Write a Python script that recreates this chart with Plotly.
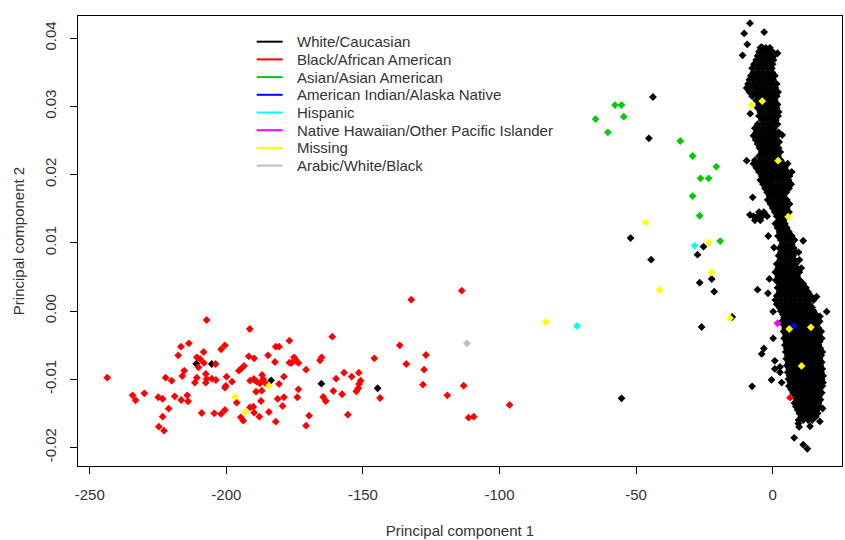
import plotly.graph_objects as go

# ---------------- data ----------------
categories = ["White/Caucasian", "Black/African American", "Asian/Asian American",
              "American Indian/Alaska Native", "Hispanic",
              "Native Hawaiian/Other Pacific Islander", "Missing", "Arabic/White/Black"]
colors = ["#000000", "#FF0000", "#00CD00", "#0000FF", "#00FFFF", "#FF00FF", "#FFFF00", "#BEBEBE"]

x_tick_vals = [-250, -200, -150, -100, -50, 0]
x_tick_text = ["-250", "-200", "-150", "-100", "-50", "0"]
y_tick_vals = [-0.02, -0.01, 0.0, 0.01, 0.02, 0.03, 0.04]
y_tick_text = ["-0.02", "-0.01", "0.00", "0.01", "0.02", "0.03", "0.04"]

# White/Caucasian: dense cluster, read row by row (PC2 value, PC1 values)
caucasian_rows = [
    (0.0386, [-4.5, -2.5, -1.0]),
    (0.0380, [-5.0, -3.2, -1.5, 0.0]),
    (0.0374, [-5.5, -3.8, -2.0, -0.5]),
    (0.0368, [-6.0, -4.4, -2.6, -1.0, 0.3]),
    (0.0362, [-6.8, -5.0, -3.2, -1.5, 0.0]),
    (0.0356, [-7.5, -5.5, -3.8, -2.0, -0.3]),
    (0.0350, [-7.0, -5.2, -3.5, -1.8, -0.2]),
    (0.0345, [-8.0, -6.2, -4.5, -2.6, -0.8]),
    (0.0339, [-8.5, -6.8, -5.0, -3.2, -1.5, 0.2]),
    (0.0333, [-9.0, -7.2, -5.5, -3.8, -2.0, -0.3, 1.5]),
    (0.0327, [-9.5, -7.8, -6.0, -4.2, -2.5, -0.8, 1.0]),
    (0.0321, [-8.5, -6.5, -4.8, -3.0, -1.2, 0.5, 2.0]),
    (0.0315, [-7.5, -5.5, -3.8, -2.0, -0.3, 1.5]),
    (0.0309, [-6.0, -4.5, -2.8, -1.0, 0.8]),
    (0.0303, [-5.0, -3.2, -1.5, 0.2, 1.8]),
    (0.0298, [-5.5, -3.8, -2.0, -0.3, 1.5]),
    (0.0292, [-4.5, -2.8, -1.0, 0.8, 2.2]),
    (0.0286, [-5.0, -3.2, -1.5, 0.3, 2.0]),
    (0.0280, [-4.0, -2.2, -0.5, 1.2]),
    (0.0274, [-5.5, -3.5, -1.8, 0.0, 1.8]),
    (0.0268, [-6.5, -4.8, -3.0, -1.2, 0.5]),
    (0.0262, [-6.0, -4.2, -2.5, -0.8, 1.0, 2.2]),
    (0.0257, [-7.0, -5.2, -3.5, -1.8, 0.0, 1.8]),
    (0.0251, [-6.2, -4.5, -2.8, -1.0, 0.8]),
    (0.0245, [-5.5, -3.8, -2.0, -0.2, 1.5]),
    (0.0239, [-4.8, -3.0, -1.2, 0.5, 2.2]),
    (0.0233, [-4.0, -2.2, -0.5, 1.2, 2.8]),
    (0.0227, [-5.0, -3.2, -1.5, 0.3, 2.0]),
    (0.0221, [-6.5, -4.5, -2.8, -1.0, 0.8, 3.0]),
    (0.0216, [-7.0, -5.0, -3.2, -1.5, 0.3, 2.0, 3.8, 5.5]),
    (0.0210, [-6.0, -4.2, -2.5, -0.8, 1.0, 2.8, 4.5]),
    (0.0204, [-5.0, -3.2, -1.5, 0.3, 2.0, 3.8, 5.5, 7.0]),
    (0.0198, [-4.0, -2.2, -0.5, 1.2, 3.0, 4.8, 6.2]),
    (0.0192, [-4.5, -2.8, -1.0, 0.5, 2.2, 4.0, 5.8]),
    (0.0186, [-3.5, -1.8, 0.0, 1.8, 3.5, 5.2, 6.8]),
    (0.0180, [-2.8, -1.0, 0.8, 2.5, 4.2, 6.0]),
    (0.0174, [-2.0, -0.3, 1.5, 3.2, 5.0]),
    (0.0169, [-1.2, 0.5, 2.2, 4.0]),
    (0.0163, [-1.8, 0.0, 1.8, 3.5, 5.2]),
    (0.0157, [-0.8, 1.0, 2.8, 4.5, 6.2]),
    (0.0151, [0.0, 1.8, 3.5, 5.2]),
    (0.0145, [-5.0, -3.2, 0.8, 2.5, 4.2, 6.0]),
    (0.0139, [-7.0, -5.5, -3.8, -2.0, 1.5, 3.2, 5.0]),
    (0.0133, [-6.5, -4.5, 2.2, 4.0]),
    (0.0128, [1.0, 2.8, 4.5]),
    (0.0122, [1.8, 3.5, 5.2]),
    (0.0116, [2.5, 4.2, 6.0]),
    (0.0110, [2.0, 3.8, 5.5, 7.0]),
    (0.0104, [3.0, 4.8, 6.5, 8.0]),
    (0.0098, [3.5, 5.2, 7.0]),
    (0.0092, [2.5, 4.2, 6.0, 7.8]),
    (0.0086, [3.0, 4.8, 6.5, 8.2, 9.5]),
    (0.0081, [2.2, 4.0, 5.8, 7.5]),
    (0.0075, [2.8, 4.5, 6.2, 8.0, 9.8]),
    (0.0069, [1.5, 3.2, 5.0, 6.8, 8.5]),
    (0.0063, [2.0, 3.8, 5.5, 7.2, 9.0, 10.5]),
    (0.0057, [1.0, 2.8, 4.5, 6.2, 8.0, 9.8]),
    (0.0051, [2.0, 3.8, 5.5, 7.2, 9.0]),
    (0.0045, [1.2, 3.0, 4.8, 6.5, 8.2, 10.0]),
    (0.0040, [2.5, 4.2, 6.0, 7.8, 9.5, 11.2]),
    (0.0034, [1.8, 3.5, 5.2, 7.0, 8.8, 10.5, 12.2]),
    (0.0028, [2.5, 4.2, 6.0, 7.8, 9.5, 11.2, 13.0]),
    (0.0022, [1.5, 3.2, 5.0, 6.8, 8.5, 10.2, 12.0, 14.0]),
    (0.0016, [1.0, 2.8, 4.5, 6.2, 8.0, 9.8, 11.5, 13.2, 15.0]),
    (0.0010, [1.5, 3.2, 5.0, 6.8, 8.5, 10.2, 12.0, 13.5]),
    (0.0005, [2.5, 4.2, 6.0, 7.8, 9.5, 11.2, 13.0, 14.5]),
    (0.0000, [3.0, 4.8, 6.5, 8.2, 10.0, 11.8, 13.5, 15.0]),
    (-0.0005, [3.8, 5.5, 7.2, 9.0, 10.8, 12.5, 14.2, 15.8]),
    (-0.0010, [4.2, 6.0, 7.8, 9.5, 11.2, 13.0, 14.8, 16.5]),
    (-0.0015, [3.5, 5.2, 7.0, 8.8, 10.5, 12.2, 14.0, 15.8, 17.2]),
    (-0.0020, [4.0, 5.8, 7.5, 9.2, 11.0, 12.8, 14.5, 16.2]),
    (-0.0025, [4.5, 6.2, 8.0, 9.8, 11.5, 13.2, 15.0, 16.8]),
    (-0.0030, [4.0, 5.8, 7.5, 9.2, 11.0, 12.8, 14.5, 16.2, 17.8]),
    (-0.0035, [4.8, 6.5, 8.2, 10.0, 11.8, 13.5, 15.2, 17.0]),
    (-0.0040, [4.2, 6.0, 7.8, 9.5, 11.2, 13.0, 14.8, 16.5, 18.0]),
    (-0.0045, [5.0, 6.8, 8.5, 10.2, 12.0, 13.8, 15.5, 17.2]),
    (-0.0050, [4.5, 6.2, 8.0, 9.8, 11.5, 13.2, 15.0, 16.8]),
    (-0.0055, [5.2, 7.0, 8.8, 10.5, 12.2, 14.0, 15.8, 17.5]),
    (-0.0060, [4.8, 6.5, 8.2, 10.0, 11.8, 13.5, 15.2, 17.0, 18.2]),
    (-0.0065, [5.5, 7.2, 9.0, 10.8, 12.5, 14.2, 16.0, 17.8]),
    (-0.0070, [5.0, 6.8, 8.5, 10.2, 12.0, 13.8, 15.5, 17.2]),
    (-0.0075, [5.8, 7.5, 9.2, 11.0, 12.8, 14.5, 16.2, 18.0]),
    (-0.0080, [5.2, 7.0, 8.8, 10.5, 12.2, 14.0, 15.8, 17.5]),
    (-0.0085, [6.0, 7.8, 9.5, 11.2, 13.0, 14.8, 16.5, 18.2]),
    (-0.0090, [5.5, 7.2, 9.0, 10.8, 12.5, 14.2, 16.0, 17.8]),
    (-0.0095, [6.2, 8.0, 9.8, 11.5, 13.2, 15.0, 16.8, 18.5]),
    (-0.0100, [5.8, 7.5, 9.2, 11.0, 12.8, 14.5, 16.2, 18.0]),
    (-0.0105, [6.5, 8.2, 10.0, 11.8, 13.5, 15.2, 17.0, 18.5]),
    (-0.0110, [6.0, 7.8, 9.5, 11.2, 13.0, 14.8, 16.5, 18.2]),
    (-0.0115, [6.8, 8.5, 10.2, 12.0, 13.8, 15.5, 17.2]),
    (-0.0120, [7.5, 9.2, 11.0, 12.8, 14.5, 16.2, 18.0]),
    (-0.0125, [8.2, 10.0, 11.8, 13.5, 15.2, 17.0]),
    (-0.0130, [8.8, 10.5, 12.2, 14.0, 15.8, 17.5]),
    (-0.0135, [8.0, 9.8, 11.5, 13.2, 15.0, 16.8]),
    (-0.0140, [8.5, 10.2, 12.0, 13.8, 15.5, 17.2]),
    (-0.0145, [9.2, 11.0, 12.8, 14.5, 16.2]),
    (-0.0150, [9.8, 11.5, 13.2, 15.0, 16.5]),
    (-0.0155, [10.5, 12.2, 14.0, 15.8]),
    (-0.0160, [9.5, 11.2, 13.0, 14.5]),
]

# White/Caucasian: scattered individuals (PC1, PC2)
caucasian_pts = [
    (-211.0, -0.00773), (-205.3, -0.00777), (-183.6, -0.01016), (-165.2, -0.01066),
    (-144.6, -0.01133), (-43.8, 0.03138), (-45.3, 0.02532), (-52.0, 0.0107),
    (-25.3, 0.00943), (-27.5, 0.00826), (-44.5, 0.00752), (-22.3, 0.00469),
    (-26.7, 0.00415), (-21.4, 0.00283), (-14.8, -0.00088), (-26.0, -0.00235),
    (-55.3, -0.0128), (-7.5, -0.01104), (-5.5, 0.00312), (-7.3, 0.01667),
    (-9.5, 0.02204), (-8.2, 0.02893), (-8.3, 0.0422), (-10.4, 0.0407),
    (-3.1, 0.0409), (-9.3, 0.0391), (-11.0, 0.0375), (-4.0, 0.0387),
    (1.8, 0.0378), (0.2, 0.0373), (0.8, 0.0345), (3.5, 0.0258), (2.4, 0.0248),
    (-8.3, 0.0141), (-1.6, 0.0110), (11.2, 0.0103), (0.5, 0.0093), (-1.2, 0.0047),
    (-1.7, 0.0026), (16.1, 0.0021), (0.2, -0.0001), (19.8, -0.0001), (17.3, -0.0008),
    (0.2, -0.0040), (-3.2, -0.0055), (-4.0, -0.0063), (0.8, -0.0073), (2.7, -0.0082),
    (0.8, -0.0085), (2.7, -0.0090), (-0.4, -0.0101), (3.3, -0.0105), (18.3, -0.0143),
    (17.3, -0.0162), (9.4, -0.0165), (13.7, -0.0169), (9.7, -0.0170), (7.9, -0.0186),
    (11.2, -0.0196), (12.7, -0.0202), (13.0, -0.0152), (10.4, -0.0152),
]

african_pts = [
    (-243.6, -0.00978), (-207.2, -0.00132), (-191.4, -0.00264), (-213.7, -0.00474),
    (-216.6, -0.00523), (-217.6, -0.0065), (-208.3, -0.00601), (-210.8, -0.00679),
    (-209.6, -0.00704), (-208.2, -0.00762), (-203.9, -0.00777), (-200.5, -0.00503),
    (-201.9, -0.00562), (-210.2, -0.00826), (-215.4, -0.00875), (-216.1, -0.00953),
    (-222.2, -0.00978), (-220.0, -0.01022), (-210.8, -0.00978), (-211.5, -0.01051),
    (-207.5, -0.00924), (-207.2, -0.00997), (-207.5, -0.01051), (-205.3, -0.00993),
    (-203.8, -0.01012), (-199.9, -0.00963), (-197.9, -0.01037), (-200.2, -0.0110),
    (-200.5, -0.01125), (-195.4, -0.00875), (-194.4, -0.0084), (-193.5, -0.00806),
    (-191.8, -0.00664), (-189.8, -0.00694), (-184.7, -0.0065), (-181.9, -0.00523),
    (-180.7, -0.00523), (-176.9, -0.00435), (-182.2, -0.00748), (-176.9, -0.00758),
    (-191.3, -0.01022), (-189.9, -0.00997), (-188.9, -0.01037), (-186.9, -0.00938),
    (-186.5, -0.00997), (-187.7, -0.0106), (-185.6, -0.0106), (-180.7, -0.0107),
    (-178.9, -0.00963), (-189.1, -0.01183), (-187.0, -0.01169), (-181.2, -0.0129),
    (-178.9, -0.01265), (-179.4, -0.01393), (-187.3, -0.0132), (-196.2, -0.01345),
    (-191.3, -0.01412), (-190.1, -0.01403), (-189.8, -0.01491), (-187.9, -0.0155),
    (-184.4, -0.01481), (-181.9, -0.01623), (-194.7, -0.01559), (-193.8, -0.01609),
    (-200.5, -0.01452), (-201.9, -0.0151), (-204.4, -0.015), (-209.0, -0.01496),
    (-221.1, -0.01433), (-223.3, -0.0155), (-224.7, -0.01696), (-222.8, -0.01755),
    (-234.3, -0.01236), (-233.2, -0.01309), (-230.0, -0.01207), (-224.9, -0.01265),
    (-223.3, -0.0129), (-218.9, -0.01251), (-216.5, -0.01305), (-214.3, -0.01236),
    (-214.0, -0.01324), (-113.8, 0.00298), (-132.3, 0.00166), (-161.2, -0.00377),
    (-136.5, -0.00503), (-126.9, -0.00645), (-134.1, -0.00777), (-145.8, -0.00694),
    (-175.2, -0.00679), (-174.6, -0.00718), (-173.6, -0.00762), (-176.1, -0.00762),
    (-165.7, -0.00723), (-165.1, -0.00679), (-170.8, -0.00861), (-127.6, -0.00861),
    (-128.0, -0.01081), (-113.1, -0.01095), (-119.1, -0.01236), (-96.3, -0.01378),
    (-111.3, -0.01565), (-109.4, -0.0155), (-156.9, -0.00905), (-151.5, -0.00905),
    (-159.8, -0.00993), (-154.1, -0.00963), (-150.8, -0.01022), (-151.4, -0.0107),
    (-151.7, -0.01133), (-152.4, -0.01177), (-143.7, -0.01276), (-160.8, -0.01173),
    (-157.6, -0.01221), (-164.5, -0.01261), (-163.6, -0.0132), (-173.6, -0.01148),
    (-174.0, -0.01265), (-169.7, -0.01535), (-170.8, -0.01682), (-155.5, -0.0152),
    (6.4, -0.01271),
]

asian_pts = [
    (-57.7, 0.0302), (-55.3, 0.0302), (-64.8, 0.02815), (-54.5, 0.02849),
    (-60.3, 0.0262), (-33.8, 0.02493), (-29.3, 0.02273), (-20.6, 0.02116),
    (-26.4, 0.01946), (-23.4, 0.01946), (-29.3, 0.01686), (-26.7, 0.01397),
    (-19.2, 0.01026),
]
amindian_pts = [(7.8, -0.0022)]
hispanic_pts = [(-28.6, 0.00957), (-71.6, -0.0022)]
hawaiian_pts = [(1.8, -0.0018)]
missing_pts = [
    (-46.4, 0.013), (-23.4, 0.01001), (-22.3, 0.00567), (-41.4, 0.00308),
    (-15.6, -0.00103), (-83.0, -0.00161), (-184.4, -0.01095), (-196.8, -0.01257),
    (-192.9, -0.01481), (-7.7, 0.0302), (-3.8, 0.03079), (2.0, 0.02204),
    (5.7, 0.01383), (6.1, -0.00264), (14.0, -0.00239), (10.6, -0.00806),
]
arabic_pts = [(-111.9, -0.00474)]

# ---------------- figure ----------------
cauc = [(x, y) for y, xs in caucasian_rows for x in xs] + caucasian_pts
groups = [cauc, african_pts, asian_pts, amindian_pts, hispanic_pts,
          hawaiian_pts, missing_pts, arabic_pts]

FONT = "Liberation Sans, Arial, Helvetica, sans-serif"
TXT = "#333333"

fig = go.Figure()
for name, col, pts in zip(categories, colors, groups):
    fig.add_trace(go.Scatter(
        x=[p[0] for p in pts], y=[p[1] for p in pts], mode="markers", name=name,
        showlegend=False,
        marker=dict(symbol="diamond", size=6, color=col, line=dict(width=0)),
    ))

# legend drawn R-style: short coloured line + label
leg_x0, leg_x1, leg_tx = 0.2339, 0.2679, 0.2840
leg_top, leg_step = 0.9429, 0.03933
shapes, annotations = [], []
for i, (name, col) in enumerate(zip(categories, colors)):
    yy = leg_top - i * leg_step
    shapes.append(dict(type="line", xref="paper", yref="paper", x0=leg_x0, x1=leg_x1,
                       y0=yy, y1=yy, line=dict(color=col, width=2)))
    annotations.append(dict(xref="paper", yref="paper", x=leg_tx, y=yy, text=name,
                            showarrow=False, xanchor="left", yanchor="middle",
                            font=dict(family=FONT, size=15, color=TXT)))

axis_common = dict(showgrid=False, zeroline=False, showline=True, mirror=True,
                   linecolor="black", linewidth=1, ticks="outside", ticklen=7,
                   tickwidth=1, tickcolor="black",
                   tickfont=dict(family=FONT, size=15, color=TXT))

fig.update_layout(
    width=845, height=540, autosize=False,
    margin=dict(l=78, r=3, t=16, b=74, pad=0),
    paper_bgcolor="white", plot_bgcolor="white",
    hovermode=False,
    shapes=shapes, annotations=annotations,
    xaxis=dict(range=[-254.3, 25.4], tickvals=x_tick_vals, ticktext=x_tick_text,
               ticklabelstandoff=8,
               title=dict(text="Principal component 1", standoff=23,
                          font=dict(family=FONT, size=15, color=TXT)),
               **axis_common),
    yaxis=dict(range=[-0.02273, 0.04326], tickvals=y_tick_vals, ticktext=y_tick_text,
               tickangle=-90, ticklabelstandoff=8,
               title=dict(text="Principal component 2", standoff=13,
                          font=dict(family=FONT, size=15, color=TXT)),
               **axis_common),
)

fig.write_html("out.html",
               config={"displayModeBar": False},
               post_script="document.body.style.margin='0';document.body.style.padding='0';")
